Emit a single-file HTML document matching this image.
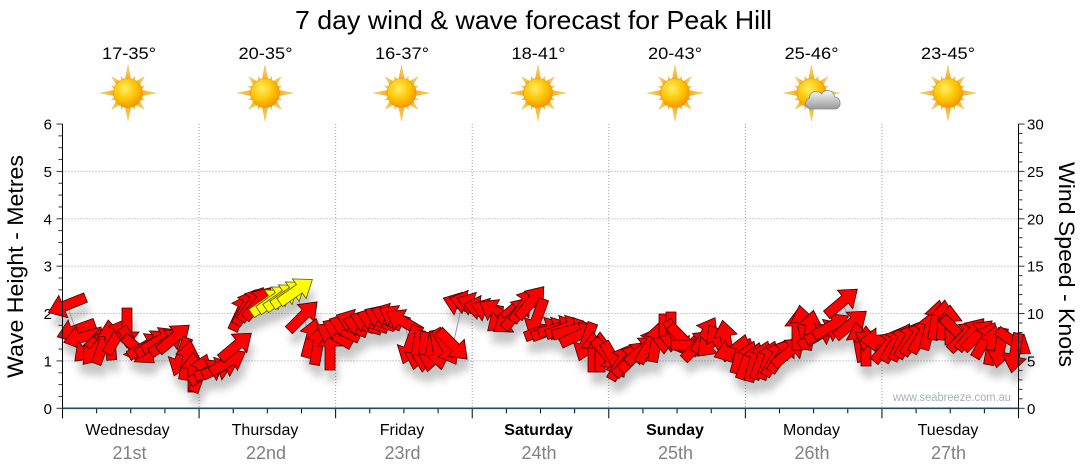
<!DOCTYPE html>
<html><head><meta charset="utf-8">
<style>
html,body{margin:0;padding:0;background:#fff;}
svg{display:block;font-family:"Liberation Sans","DejaVu Sans",sans-serif;}
</style></head><body>
<svg id="c" width="1080" height="475" viewBox="0 0 1080 475" xmlns="http://www.w3.org/2000/svg">
<defs>
 <radialGradient id="disc" cx="0.4" cy="0.35" r="0.7">
  <stop offset="0" stop-color="#ffee66"/>
  <stop offset="0.55" stop-color="#ffc400"/>
  <stop offset="1" stop-color="#f09000"/>
 </radialGradient>
 <linearGradient id="ray" x1="0" y1="0" x2="0" y2="1">
  <stop offset="0" stop-color="#ffe04a"/>
  <stop offset="1" stop-color="#eea030"/>
 </linearGradient>
 <linearGradient id="cloud" x1="0" y1="0" x2="0" y2="1">
  <stop offset="0" stop-color="#f6f6f6"/>
  <stop offset="1" stop-color="#9a9a9a"/>
 </linearGradient>
 <filter id="blur" x="-10%" y="-50%" width="120%" height="200%"><feGaussianBlur stdDeviation="4"/></filter>
</defs>

<text x="533.5" y="29" font-size="26" text-anchor="middle" textLength="477" lengthAdjust="spacingAndGlyphs">7 day wind &amp; wave forecast for Peak Hill</text>

<g font-size="17" text-anchor="middle" fill="#000">
 <text x="129" y="59" textLength="54" lengthAdjust="spacingAndGlyphs">17-35°</text>
 <text x="265.5" y="59" textLength="54" lengthAdjust="spacingAndGlyphs">20-35°</text>
 <text x="402" y="59" textLength="54" lengthAdjust="spacingAndGlyphs">16-37°</text>
 <text x="538.5" y="59" textLength="54" lengthAdjust="spacingAndGlyphs">18-41°</text>
 <text x="675" y="59" textLength="54" lengthAdjust="spacingAndGlyphs">20-43°</text>
 <text x="811.5" y="59" textLength="54" lengthAdjust="spacingAndGlyphs">25-46°</text>
 <text x="948" y="59" textLength="54" lengthAdjust="spacingAndGlyphs">23-45°</text>
</g>

<g id="suns"></g>

<g id="grid" stroke="#a0a0a0" stroke-width="1" stroke-dasharray="1,2" fill="none"></g>

<text transform="translate(23,266.5) rotate(-90)" font-size="22" text-anchor="middle" textLength="223" lengthAdjust="spacingAndGlyphs">Wave Height - Metres</text>
<text transform="translate(1059,264.5) rotate(90)" font-size="22" text-anchor="middle" textLength="205" lengthAdjust="spacingAndGlyphs">Wind Speed - Knots</text>

<g font-size="15" text-anchor="end" fill="#000">
 <text x="52" y="129.5">6</text>
 <text x="52" y="176.9">5</text>
 <text x="52" y="224.3">4</text>
 <text x="52" y="271.7">3</text>
 <text x="52" y="319.1">2</text>
 <text x="52" y="366.5">1</text>
 <text x="52" y="413.9">0</text>
</g>
<g font-size="15" text-anchor="start" fill="#000">
 <text x="1027" y="129.5">30</text>
 <text x="1027" y="176.9">25</text>
 <text x="1027" y="224.3">20</text>
 <text x="1027" y="271.7">15</text>
 <text x="1027" y="319.1">10</text>
 <text x="1027" y="366.5">5</text>
 <text x="1027" y="413.9">0</text>
</g>

<text x="893" y="401" font-size="11.5" fill="#a9b0bc" textLength="118" lengthAdjust="spacingAndGlyphs">www.seabreeze.com.au</text>

<g id="arrows"></g>
<g id="axes"></g>

<g text-anchor="middle">
 <g font-size="16" fill="#000">
  <text x="127.5" y="435">Wednesday</text>
  <text x="265" y="435">Thursday</text>
  <text x="402" y="435">Friday</text>
  <text x="538.5" y="435" font-weight="bold">Saturday</text>
  <text x="675" y="435" font-weight="bold">Sunday</text>
  <text x="811.5" y="435">Monday</text>
  <text x="948" y="435">Tuesday</text>
 </g>
 <g font-size="18" fill="#808080">
  <text x="129.5" y="459">21st</text>
  <text x="266" y="459">22nd</text>
  <text x="402.5" y="459">23rd</text>
  <text x="539" y="459">24th</text>
  <text x="675.5" y="459">25th</text>
  <text x="812" y="459">26th</text>
  <text x="948.5" y="459">27th</text>
 </g>
</g>
</svg>
<script>
(function(){
var NS="http://www.w3.org/2000/svg";
function el(n,a,p){var e=document.createElementNS(NS,n);for(var k in a)e.setAttribute(k,a[k]);if(p)p.appendChild(e);return e;}
var X0=62.5,X1=1018.5,DW=(X1-X0)/7,Y0=408.3,U=47.38;
var g=document.getElementById('grid');
for(var i=1;i<=5;i++){var y=Y0-i*U;el('line',{x1:X0,y1:y,x2:X1,y2:y},g);}
for(var k=1;k<7;k++){var x=X0+k*DW;el('line',{x1:x,y1:124,x2:x,y2:Y0},g);}
var ax=document.getElementById('axes');
el('line',{x1:X0,y1:124,x2:X0,y2:Y0,stroke:'#000','stroke-width':1},ax);
el('line',{x1:X1,y1:124,x2:X1,y2:Y0,stroke:'#000','stroke-width':1},ax);
for(var i=0;i<=24;i++){var y=Y0-i*U/4;var maj=(i%4==0);
 el('line',{x1:X0-(maj?6:4),y1:y,x2:X0,y2:y,stroke:'#333','stroke-width':1},ax);}
for(var i=0;i<=30;i++){var y=Y0-i*U/5;var maj=(i%5==0);
 el('line',{x1:X1,y1:y,x2:X1+(maj?6:4),y2:y,stroke:'#333','stroke-width':1},ax);}
for(var i=0;i<=28;i++){var x=X0+i*DW/4;var maj=(i%4==0);
 el('line',{x1:x,y1:Y0,x2:x,y2:Y0+(maj?10:5),stroke:'#000','stroke-width':1},ax);}
el('line',{x1:X0,y1:Y0,x2:X1,y2:Y0,stroke:'#1d4a6e','stroke-width':1.6},ax);
var sg=document.getElementById('suns');
var sx=[128,265,401.5,538,675,811.5,948];
sx.forEach(function(cx,idx){
 var s=el('g',{transform:'translate('+cx+',93)'},sg);
 for(var r=0;r<16;r++){
  var len=(r%4==0)?28:(r%2==0?23:18);
  var w=(r%2==0)?3.6:3;
  el('path',{d:'M'+(-w)+',-10 L0,'+(-len)+' L'+w+',-10 Z',fill:'url(#ray)',stroke:'#e8a030','stroke-width':0.3,transform:'rotate('+(r*22.5)+')'},s);
 }
 el('circle',{cx:0,cy:0,r:14.5,fill:'url(#disc)',stroke:'#e89a10','stroke-width':0.6},s);
 if(idx==5){
  var c=el('g',{transform:'translate(10,5)'},s);
  el('path',{d:'M-10,11 C-17,11 -18,2 -12,0 C-12,-7 -3,-9 0,-4 C3,-10 13,-8 13,-1 C20,-1 21,11 13,11 Z',fill:'url(#cloud)',stroke:'#888','stroke-width':0.8},c);
 }
});
var A=[
[67,305,158],[76,330,160],[83,337,165],[89,347,135],[96,349,130],[103,345,-70],[110,340,-95],[117,336,-60],
[127,328,90],[132,345,60],[139,350,40],[146,346,-30],[153,343,-35],[160,340,-30],[167,342,-35],[174,338,-40],
[181,357,110],[187,360,-80],[193,372,-90],[200,373,-70],[207,372,-30],[214,370,-20],[221,367,-25],[228,362,-30],
[236,346,-40],[241,312,-65],[246,307,-60],[252,304,-55],[258,303,-50],
[268,302,-35,1],[275,299,-35,1],[282,297,-35,1],[289,294,-35,1],[296,291,-35,1],
[303,316,-45],[311,338,-75],[318,345,-80],[330,350,-90],[334,335,-150],[341,330,-155],[348,326,-160],[355,322,-160],
[362,325,-165],[369,322,-160],[376,320,-160],[383,318,-155],[390,316,-160],[397,318,-150],[404,322,-150],
[410,345,110],[417,350,100],[424,352,95],[431,352,100],[438,350,80],[446,347,60],[453,345,45],
[462,305,-160],[469,303,-165],[476,305,-160],[483,308,-170],[490,311,-160],[497,312,-150],[503,318,140],[510,320,145],
[517,313,-50],[524,305,-55],[531,302,-50],[537,318,110],[544,330,-20],[551,330,-20],[558,328,-15],[565,328,-20],
[572,330,-15],[579,335,-25],[586,342,110],[593,352,-90],[600,352,-90],[607,355,50],[614,360,60],[621,362,-60],
[628,360,-50],[635,356,-45],[642,350,-40],[649,345,-60],[656,342,-80],[664,334,90],[671,332,90],[677,338,60],
[684,340,45],[691,345,0],[698,345,-45],[705,335,-60],[712,342,135],[719,342,-120],[726,340,-100],[733,350,160],
[740,354,-75],[747,360,-70],[754,362,-75],[761,360,-70],[768,360,-70],[775,358,-60],[782,355,-55],[789,352,-40],
[797,330,-90],[803,325,-100],[810,330,-80],[817,336,-30],[824,332,-25],[831,326,-30],[842,302,-40],[851,324,-40],
[859,342,-100],[866,346,-90],[873,343,-150],[880,340,180],[887,346,-50],[894,344,-60],[901,342,-65],[908,340,-60],
[915,338,-55],[922,335,-60],[929,330,-75],[936,320,-80],[943,320,-85],[950,325,-90],[957,332,45],[964,336,-45],
[971,334,-50],[978,335,-45],[985,340,-60],[992,345,-80],[1000,348,100],[1014,342,35],[1015,353,100]
];
var P='M-20,-5 L4,-5 L4,-12 L20,0 L4,12 L4,5 L-20,5 Z';
var ag=document.getElementById('arrows');
var sh=el('g',{filter:'url(#blur)',opacity:0.22,transform:'translate(3,12)'},ag);
A.forEach(function(a){el('path',{d:P,fill:'#000',transform:'translate('+a[0]+','+a[1]+') rotate('+a[2]+')'},sh);});
var pts=A.map(function(a){return a[0]+','+a[1];}).join(' ');
el('polyline',{points:pts,fill:'none',stroke:'#999','stroke-width':1},ag);
A.forEach(function(a){
 el('path',{d:P,fill:a[3]?'#ffff00':'#ff0000',stroke:a[3]?'#555500':'#400000','stroke-width':0.8,'stroke-linejoin':'miter',transform:'translate('+a[0]+','+a[1]+') rotate('+a[2]+')'},ag);
});
})();
</script>
</body></html>
